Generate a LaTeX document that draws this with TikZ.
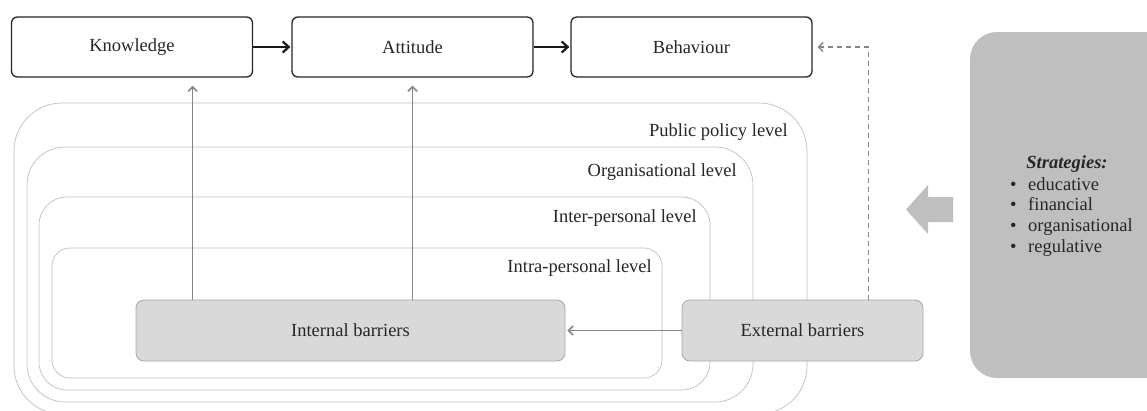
\documentclass[tikz,border=0pt]{standalone}
\usepackage{fontspec}
\setmainfont{Liberation Serif}
\usetikzlibrary{arrows.meta}
\definecolor{txt}{HTML}{262626}
\begin{document}
\begin{tikzpicture}[x=1pt,y=-1pt,
  every node/.style={font=\fontsize{18.5}{20.7}\selectfont, text=txt},
  topbox/.style={draw=black!85, line width=1.3pt, rounded corners=6pt, minimum width=241pt, minimum height=60pt, inner sep=0pt},
  barrier/.style={draw=black!35, fill=black!15, line width=0.8pt, rounded corners=8pt, minimum height=61pt, inner sep=0pt},
  levelframe/.style={draw=black!25, line width=0.7pt},
  levellabel/.style={anchor=east, inner sep=0pt},
  blackarrow/.style={-{Straight Barb[length=6pt,width=11pt]}, line width=2.2pt, draw=black!90},
  grayarrow/.style={-{Straight Barb[length=4.5pt,width=9pt]}, line width=1.6pt, draw=black!48},
  dasharrow/.style={grayarrow, line width=1.3pt, dash pattern=on 5pt off 4pt},
  stratline/.style={anchor=base west, inner sep=0pt}
]
\useasboundingbox (0,0) rectangle (1147,410);
\clip (0,0) rectangle (1147,410);

% level frames
\draw[levelframe, rounded corners=48pt] (14,103) rectangle (807,414);
\draw[levelframe, rounded corners=38pt] (27,147) rectangle (753,402);
\draw[levelframe, rounded corners=28pt] (39,197) rectangle (710,390);
\draw[levelframe, rounded corners=18pt] (52,248) rectangle (662,378);

\node[levellabel] (lpub) at (788,132) {Public policy level};
\node[levellabel] (lorg) at (737,172) {Organisational level};
\node[levellabel] (linter) at (697,218) {Inter-personal level};
\node[levellabel] (lintra) at (652,268) {Intra-personal level};

% top boxes
\node[topbox] (know) at (132,47) {Knowledge};
\node[topbox] (att) at (412.5,47) {Attitude};
\node[topbox] (beh) at (691.5,47) {Behaviour};

% barriers
\node[barrier, minimum width=429pt] (int) at (350.5,330.5) {Internal barriers};
\node[barrier, minimum width=241pt] (ext) at (802.5,330.5) {External barriers};

% strategies
\node[fill=black!25, rounded corners=27pt, minimum width=210pt, minimum height=346pt, inner sep=0pt] (strat) at (1075,205) {};
\node[anchor=base, inner sep=0pt] (stitle) at (1067,168) {\textbf{\textit{Strategies:}}};
\node[stratline] (s1) at (1010,190) {\makebox[18pt][l]{•}educative};
\node[stratline] (s2) at (1010,210.7) {\makebox[18pt][l]{•}financial};
\node[stratline] (s3) at (1010,231.4) {\makebox[18pt][l]{•}organisational};
\node[stratline] (s4) at (1010,252.1) {\makebox[18pt][l]{•}regulative};

% big block arrow
\fill[black!25] (906,209.5) -- (928,185) -- (928,197) -- (953,197) -- (953,222) -- (928,222) -- (928,234) -- cycle;

% connectors
\draw[blackarrow, shorten >=1pt] (know) -- (att);
\draw[blackarrow, shorten >=1pt] (att) -- (beh);
\draw[grayarrow, shorten >=2pt] (ext) -- (int);
\coordinate (a1) at ([xshift=57pt]int.north west);
\draw[grayarrow, shorten >=8pt] (a1) -- (a1 |- know.south);
\draw[grayarrow, shorten >=8pt] (int.north -| att.south) -- (att.south);
\coordinate (d1) at ([xshift=187pt]ext.north west);
\draw[dasharrow, shorten >=5pt] (d1) |- (beh.east);
\end{tikzpicture}
\end{document}
